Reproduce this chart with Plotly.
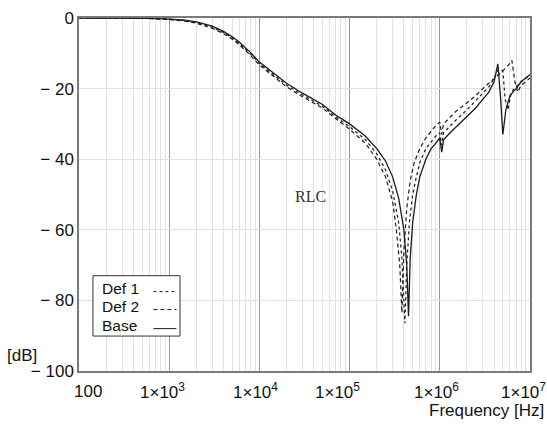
import math
import plotly.graph_objects as go

# ---- data ----
base_f = [100, 300, 600, 1000, 1500, 2000, 3000, 4000, 5000, 6000, 8000, 1e4, 1.5e4, 2e4, 3e4, 5e4,
          7e4, 1e5, 1.5e5, 2e5, 2.5e5, 3e5, 3.5e5, 4e5, 4.3e5, 4.5e5, 4.7e5, 5e5, 5.5e5, 6e5, 7e5,
          8e5, 9e5, 1e6, 1.05e6, 1.1e6, 1.3e6, 1.5e6, 2e6, 2.5e6, 3e6, 3.5e6, 4e6, 4.4e6, 4.7e6,
          5e6, 5.4e6, 6e6, 7e6, 8e6, 9e6, 1e7]
base_db = [0, 0, -0.1, -0.3, -0.6, -1.1, -2.3, -3.8, -5.3, -6.9, -9.8, -12.5, -16, -18.5, -21.3, -24.5,
           -27.5, -30, -33.5, -37, -40.5, -45, -51, -60, -70, -84.5, -68, -58, -50, -45, -40,
           -37, -35.5, -34, -38, -34.5, -32.5, -31, -28, -25.5, -23, -21, -18, -13, -22,
           -33, -26, -22, -20, -18, -17, -16]

def1_f = [100, 300, 600, 1000, 1500, 2000, 3000, 4000, 5000, 6000, 8000, 1e4, 1.5e4, 2e4, 3e4, 5e4,
          7e4, 1e5, 1.5e5, 2e5, 2.5e5, 3e5, 3.5e5, 3.8e5, 4.1e5, 4.3e5, 4.6e5, 5e5, 5.5e5, 6e5, 7e5,
          8e5, 9e5, 1e6, 1.05e6, 1.1e6, 1.3e6, 1.5e6, 2e6, 2.5e6, 3e6, 3.5e6, 4e6, 4.5e6, 5e6,
          5.3e6, 5.7e6, 6.2e6, 7e6, 8e6, 9e6, 1e7]
def1_db = [0, 0, -0.1, -0.35, -0.7, -1.3, -2.6, -4.1, -5.6, -7.2, -10.2, -12.9, -16.5, -19, -21.8, -25,
           -28, -30.8, -34.5, -38.5, -43, -49, -58, -68, -86.5, -70, -58, -50, -45, -41, -37,
           -35, -33.5, -32.5, -36, -32.5, -30.5, -29, -26, -23.5, -21.5, -19.5, -17, -14.5, -15,
           -23, -26, -21, -19.5, -18, -17, -16.5]

def2_f = [100, 300, 600, 1000, 1500, 2000, 3000, 4000, 5000, 6000, 8000, 1e4, 1.5e4, 2e4, 3e4, 5e4,
          7e4, 1e5, 1.5e5, 2e5, 2.5e5, 3e5, 3.3e5, 3.6e5, 3.8e5, 4e5, 4.3e5, 4.7e5, 5.2e5, 6e5, 7e5,
          8e5, 9e5, 1e6, 1.05e6, 1.1e6, 1.3e6, 1.5e6, 2e6, 2.5e6, 3e6, 3.5e6, 4e6, 4.5e6, 5e6,
          5.5e6, 6.3e6, 6.8e6, 7.3e6, 8e6, 9e6, 1e7]
def2_db = [0, 0, -0.15, -0.45, -0.9, -1.5, -2.9, -4.4, -6, -7.6, -10.6, -13.3, -17, -19.5, -22.3, -25.5,
           -28.5, -31.5, -35.5, -40, -45, -52, -60, -70, -83.5, -66, -54, -46, -41, -37, -34,
           -32, -30.5, -29.5, -33, -30, -28, -26.5, -24, -22, -20, -18.5, -17, -16, -15,
           -14, -12, -18, -21, -19, -18, -17]

y_ticks = [0, -20, -40, -60, -80, -100]
y_tick_text = ["0", "− 20", "− 40", "− 60", "− 80", "− 100"]
x_ticks = [100, 1e3, 1e4, 1e5, 1e6, 1e7]
x_tick_text = ["100", "1×10<sup>3</sup>", "1×10<sup>4</sup>", "1×10<sup>5</sup>",
               "1×10<sup>6</sup>", "1×10<sup>7</sup>"]
x_label_shift = [9, -7, -4, -12, -3, -7]
legend_names = ["Def 1", "Def 2", "Base"]

LINE = "#1a1a1a"
fig = go.Figure()
fig.add_trace(go.Scatter(x=def1_f, y=def1_db, mode="lines", name="Def 1",
                         line=dict(color=LINE, width=1.2, dash="dot")))
fig.add_trace(go.Scatter(x=def2_f, y=def2_db, mode="lines", name="Def 2",
                         line=dict(color=LINE, width=1.2, dash="4px,3px")))
fig.add_trace(go.Scatter(x=base_f, y=base_db, mode="lines", name="Base",
                         line=dict(color=LINE, width=1.3)))

FONT = "Liberation Sans, Arial, sans-serif"
fig.update_layout(
    width=547, height=427,
    margin=dict(l=79, r=17, t=18, b=56, autoexpand=False),
    paper_bgcolor="white", plot_bgcolor="white",
    showlegend=False,
    font=dict(family=FONT, size=17, color="#111"),
    xaxis=dict(type="log", range=[2, 7], tickvals=x_ticks, showticklabels=False,
               showgrid=True, gridcolor="#8f9ba5", gridwidth=1, automargin=False,
               minor=dict(dtick="D1", showgrid=True, gridcolor="#dce2ea", gridwidth=1),
               showline=True, linecolor="#7a7a7a", linewidth=1.5, mirror=True,
               ticks="", zeroline=False),
    yaxis=dict(range=[-100, 0], tickvals=y_ticks, ticktext=y_tick_text, automargin=False,
               showgrid=True, gridcolor="#dce2ea", gridwidth=1,
               showline=True, linecolor="#7a7a7a", linewidth=1.5, mirror=True,
               ticks="", tickfont=dict(size=17), zeroline=False),
)

# x tick labels as annotations (slightly offset, as in the reference)
for v, t, sh in zip(x_ticks, x_tick_text, x_label_shift):
    fig.add_annotation(text=t, x=math.log10(v), xref="x", y=-0.057, yref="paper",
                       xanchor="center", yanchor="middle", xshift=sh, showarrow=False,
                       font=dict(size=17))

# axis titles and label
fig.add_annotation(text="[dB]", xref="paper", yref="paper", x=-0.164, y=0.043,
                   xanchor="left", yanchor="middle", showarrow=False, font=dict(size=17))
fig.add_annotation(text="Frequency [Hz]", xref="paper", yref="paper", x=1.035, y=-0.111,
                   xanchor="right", yanchor="middle", showarrow=False, font=dict(size=17))
fig.add_annotation(text="RLC", xref="paper", yref="paper", x=0.513, y=0.494,
                   showarrow=False, font=dict(family="Liberation Serif, Times New Roman, serif",
                                              size=16, color="#333"))

# legend box (text on the left, line sample on the right)
fig.add_shape(type="rect", xref="paper", yref="paper", x0=0.031, x1=0.224, y0=0.099, y1=0.270,
              line=dict(color="#333", width=1), fillcolor="white", layer="above")
dashes = ["dot", "4px,3px", "solid"]
ys = [0.235, 0.184, 0.130]
for name, d, yy in zip(legend_names, dashes, ys):
    fig.add_annotation(text=name, xref="paper", yref="paper", x=0.047, y=yy,
                       xanchor="left", yanchor="middle", showarrow=False,
                       font=dict(size=15.5))
    fig.add_shape(type="line", xref="paper", yref="paper", x0=0.165, x1=0.216, y0=yy - 0.01,
                  y1=yy - 0.01, line=dict(color=LINE, width=1, dash=d), layer="above")

fig.write_html("out.html", config={"displayModeBar": False},
               post_script="document.body.style.margin='0px';")
